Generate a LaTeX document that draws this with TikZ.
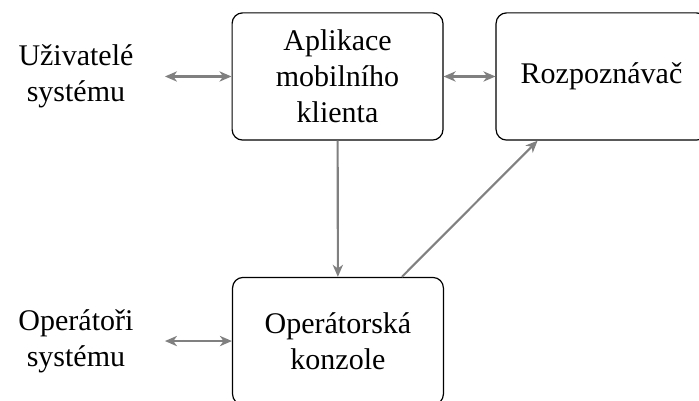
\documentclass[tikz,border=0pt]{standalone}
\usepackage{fontspec}
\setmainfont{Liberation Serif}
\usetikzlibrary{arrows.meta}
\tikzset{
	block/.style={draw, rounded corners=3.5pt, minimum width=2.47cm, minimum height=1.49cm, align=center, inner sep=0pt},
	actor/.style={minimum width=2.07cm, align=center, inner sep=0pt},
	link/.style={draw=gray, line width=0.7pt, -{Stealth[length=4pt, width=3.4pt, inset=1.2pt]}},
	duallink/.style={link, {Stealth[length=4pt, width=3.4pt, inset=1.2pt]}-{Stealth[length=4pt, width=3.4pt, inset=1.2pt]}}
}

\begin{document}
\begin{tikzpicture}
		%%%%% START %%%%%
		
		\useasboundingbox (0, 0) rectangle (8.188, -4.697);
		\clip (0, 0) rectangle (8.188, -4.697);
		
		\node[actor] (uzivatele) at (0.89, -0.896) {Uživatelé\\systému};
		\node[actor] (operatori) at (0.89, -3.995) {Operátoři\\systému};
		
		\node[block] (aplikace) at (3.954, -0.896) {Aplikace\\mobilního\\klienta};
		\node[block] (rozpoznavac) at (7.046, -0.896) {Rozpoznávač};
		\node[block] (konzole) at (3.959, -3.995) {Operátorská\\konzole};
		
		\draw[duallink] (uzivatele) -- (aplikace);
		\draw[duallink] (aplikace) -- (rozpoznavac);
		\draw[duallink] (operatori) -- (konzole);
		
		\draw[link] (aplikace) -- (konzole);
		\draw[link] (konzole) -- (rozpoznavac);
		
		%%%%% END %%%%%
	\end{tikzpicture}
\end{document}
